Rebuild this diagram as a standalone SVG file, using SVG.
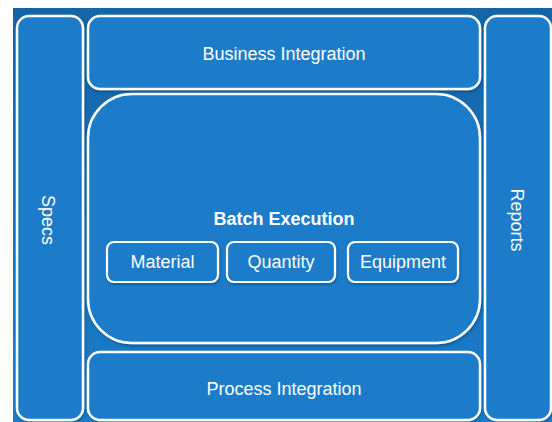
<svg xmlns="http://www.w3.org/2000/svg" width="552" height="422" viewBox="0 0 552 422">
  <defs>
    <linearGradient id="bg" x1="0" y1="0" x2="0" y2="1">
      <stop offset="0" stop-color="#1465a8"/>
      <stop offset="1" stop-color="#1a7dca"/>
    </linearGradient>
    <filter id="sh" x="-10%" y="-10%" width="120%" height="120%">
      <feDropShadow dx="1" dy="2" stdDeviation="1.5" flood-color="#0a3a66" flood-opacity="0.45"/>
    </filter>
    <style>
      .box { fill: #1a7cc9; stroke: #ffffff; stroke-width: 2.5; filter: url(#sh); }
      .sub { fill: #1a7cc9; stroke: #ffffff; stroke-width: 2.2; filter: url(#sh); }
      .lbl { font-family: "Liberation Sans", Arial, Helvetica, sans-serif; font-size: 18px; fill: #ffffff; text-anchor: middle; }
      .bold { font-weight: bold; }
    </style>
  </defs>
  <rect x="0" y="0" width="552" height="422" fill="#ffffff"/>
  <rect id="background" x="13" y="8" width="539" height="414" fill="url(#bg)"/>

  <g id="specs">
    <rect class="box" x="17" y="16" width="66" height="404" rx="12"/>
    <text class="lbl" transform="translate(48,220) rotate(90)" y="6">Specs</text>
  </g>

  <g id="business-integration">
    <rect class="box" x="88" y="16" width="392" height="73" rx="12"/>
    <text class="lbl" x="284" y="60">Business Integration</text>
  </g>

  <g id="batch-execution">
    <rect class="box" x="88" y="94" width="392" height="249" rx="44"/>
    <text class="lbl bold" x="284" y="225">Batch Execution</text>
  </g>

  <g id="material">
    <rect class="sub" x="107" y="242" width="111" height="40" rx="7"/>
    <text class="lbl" x="162.5" y="268">Material</text>
  </g>

  <g id="quantity">
    <rect class="sub" x="227" y="242" width="108" height="40" rx="7"/>
    <text class="lbl" x="281" y="268">Quantity</text>
  </g>

  <g id="equipment">
    <rect class="sub" x="348" y="242" width="110" height="40" rx="7"/>
    <text class="lbl" x="403" y="268">Equipment</text>
  </g>

  <g id="process-integration">
    <rect class="box" x="88" y="352" width="392" height="68" rx="12"/>
    <text class="lbl" x="284" y="395">Process Integration</text>
  </g>

  <g id="reports">
    <rect class="box" x="485" y="16" width="66" height="404" rx="12"/>
    <text class="lbl" transform="translate(517,220) rotate(90)" y="6">Reports</text>
  </g>

  <g id="connectors"/>
</svg>
